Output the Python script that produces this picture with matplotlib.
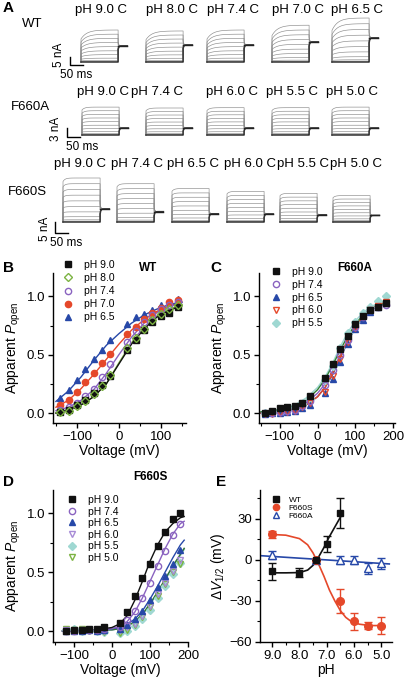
import numpy as np
import matplotlib
matplotlib.use('Agg')
import matplotlib.pyplot as plt
from matplotlib.lines import Line2D
from matplotlib.ticker import MultipleLocator, FormatStrFormatter

plt.rcParams['font.family'] = ['Liberation Sans', 'DejaVu Sans']
plt.rcParams['mathtext.fontset'] = 'custom'
plt.rcParams['mathtext.rm'] = 'Liberation Sans'
plt.rcParams['mathtext.it'] = 'Liberation Sans:italic'
plt.rcParams['mathtext.bf'] = 'Liberation Sans:bold'
plt.rcParams['axes.linewidth'] = 1.0

# ---------------- data: panel A (current families) ----------------
wt_labels = ["pH 9.0 C", "pH 8.0 C", "pH 7.4 C", "pH 7.0 C", "pH 6.5 C"]
wt_imax = [20.0, 19.4, 20.0, 23.0, 27.5]
wt_tail = [10.0, 10.6, 10.6, 12.5, 15.0]
f660a_labels = ["pH 9.0 C", "pH 7.4 C", "pH 6.0 C", "pH 5.5 C", "pH 5.0 C"]
f660a_imax = [9.3, 9.0, 9.1, 9.1, 9.3]
f660a_tail = [2.3, 2.3, 2.3, 2.3, 2.3]
f660s_labels = ["pH 9.0 C", "pH 7.4 C", "pH 6.5 C", "pH 6.0 C", "pH 5.5 C", "pH 5.0 C"]
f660s_imax = [20.0, 17.4, 15.2, 13.9, 13.0, 12.0]
f660s_tail = [5.9, 4.7, 3.7, 3.6, 3.2, 3.0]
trace_frac = [1.0, 0.87, 0.74, 0.61, 0.48, 0.35, 0.23, 0.12, 0.05, 0.02, 0.0]

# ---------------- data: panel B (WT) ----------------
v_wt = [-140, -120, -100, -80, -60, -40, -20, 20, 40, 60, 80, 100, 120, 140]
wt_p90 = [0.01, 0.03, 0.07, 0.11, 0.17, 0.24, 0.32, 0.54, 0.63, 0.71, 0.78, 0.83, 0.86, 0.91]
wt_p80 = [0.01, 0.02, 0.06, 0.10, 0.16, 0.23, 0.33, 0.56, 0.64, 0.72, 0.80, 0.85, 0.89, 0.93]
wt_p74 = [0.03, 0.05, 0.09, 0.15, 0.21, 0.31, 0.42, 0.61, 0.70, 0.78, 0.84, 0.89, 0.93, 0.95]
wt_p70 = [0.07, 0.11, 0.18, 0.27, 0.34, 0.43, 0.51, 0.68, 0.74, 0.81, 0.86, 0.90, 0.95, 0.97]
wt_p65 = [0.13, 0.20, 0.28, 0.38, 0.46, 0.54, 0.63, 0.76, 0.82, 0.85, 0.88, 0.93, 0.95, 0.98]
v_fit_b = [-150, -120, -90, -60, -30, 0, 30, 60, 90, 120, 150]
fit_b90 = [0.00, 0.03, 0.07, 0.14, 0.25, 0.42, 0.59, 0.72, 0.82, 0.88, 0.92]
fit_b80 = [0.00, 0.03, 0.07, 0.14, 0.25, 0.43, 0.60, 0.73, 0.83, 0.89, 0.93]
fit_b74 = [0.02, 0.05, 0.11, 0.20, 0.34, 0.50, 0.65, 0.77, 0.86, 0.91, 0.95]
fit_b70 = [0.05, 0.11, 0.21, 0.33, 0.46, 0.59, 0.71, 0.80, 0.87, 0.92, 0.95]
fit_b65 = [0.10, 0.19, 0.31, 0.45, 0.58, 0.68, 0.77, 0.84, 0.89, 0.93, 0.95]

# ---------------- data: panel C (F660A) ----------------
v_a = [-140, -120, -100, -80, -60, -40, -20, 20, 40, 60, 80, 100, 120, 140, 160, 180]
a_p90 = [0.00, 0.02, 0.04, 0.05, 0.06, 0.09, 0.15, 0.30, 0.42, 0.55, 0.66, 0.76, 0.83, 0.88, 0.91, 0.94]
a_p74 = [0.00, 0.00, 0.01, 0.02, 0.03, 0.06, 0.10, 0.24, 0.37, 0.50, 0.63, 0.74, 0.82, 0.88, 0.91, 0.93]
a_p65 = [-0.01, 0.00, 0.00, 0.01, 0.02, 0.04, 0.07, 0.17, 0.29, 0.44, 0.59, 0.72, 0.80, 0.87, 0.91, 0.94]
a_p60 = [-0.01, -0.01, 0.00, 0.01, 0.02, 0.05, 0.09, 0.18, 0.32, 0.46, 0.61, 0.73, 0.82, 0.88, 0.92, 0.95]
a_p55 = [0.00, 0.01, 0.02, 0.03, 0.05, 0.08, 0.12, 0.28, 0.40, 0.56, 0.69, 0.78, 0.86, 0.91, 0.96, 1.00]
v_fit_a = [-150, -120, -90, -60, -30, 0, 20, 40, 60, 80, 100, 120, 140, 160, 180]
fit_a90 = [0.01, 0.02, 0.03, 0.06, 0.11, 0.20, 0.29, 0.41, 0.54, 0.66, 0.76, 0.84, 0.89, 0.92, 0.94]
fit_a74 = [0.00, 0.01, 0.02, 0.04, 0.09, 0.17, 0.25, 0.36, 0.50, 0.63, 0.74, 0.82, 0.88, 0.91, 0.93]
fit_a65 = [0.00, 0.01, 0.02, 0.03, 0.07, 0.14, 0.22, 0.33, 0.47, 0.61, 0.73, 0.82, 0.88, 0.92, 0.94]
fit_a60 = [0.00, 0.00, 0.01, 0.03, 0.07, 0.14, 0.22, 0.34, 0.48, 0.62, 0.74, 0.83, 0.89, 0.93, 0.95]
fit_a55 = [0.01, 0.02, 0.04, 0.07, 0.13, 0.22, 0.31, 0.43, 0.57, 0.69, 0.79, 0.86, 0.91, 0.94, 0.96]

# ---------------- data: panel D (F660S) ----------------
v_s = [-120, -100, -80, -60, -40, -20, 20, 40, 60, 80, 100, 120, 140, 160, 180]
s_p90 = [0.00, 0.01, 0.01, 0.02, 0.02, 0.03, 0.07, 0.16, 0.30, 0.45, 0.57, 0.72, 0.84, 0.95, 1.00]
s_p74 = [0.00, 0.00, 0.01, 0.01, 0.01, 0.02, 0.03, 0.09, 0.17, 0.28, 0.41, 0.55, 0.68, 0.81, 0.91]
s_p65 = [0.00, 0.00, 0.00, 0.01, 0.00, 0.01, 0.02, 0.05, 0.10, 0.17, 0.26, 0.37, 0.47, 0.57, 0.69]
s_p60 = [0.01, 0.00, 0.01, 0.00, 0.01, 0.00, 0.01, 0.03, 0.06, 0.13, 0.21, 0.31, 0.41, 0.51, 0.60]
s_p55 = [0.01, 0.02, 0.00, 0.01, 0.00, -0.01, -0.02, 0.00, 0.04, 0.10, 0.18, 0.28, 0.38, 0.48, 0.58]
s_p50 = [0.02, 0.01, 0.02, 0.00, 0.01, -0.01, -0.02, 0.01, 0.05, 0.12, 0.20, 0.30, 0.40, 0.50, 0.57]
v_fit_s = [-130, -90, -50, -20, 0, 20, 40, 60, 80, 100, 120, 140, 160, 180, 190]
fit_s90 = [0.00, 0.00, 0.01, 0.02, 0.03, 0.06, 0.13, 0.26, 0.42, 0.59, 0.73, 0.84, 0.91, 0.96, 0.97]
fit_s74 = [0.00, 0.00, 0.00, 0.01, 0.02, 0.04, 0.08, 0.16, 0.28, 0.42, 0.56, 0.70, 0.82, 0.91, 0.93]
fit_s65 = [0.00, 0.00, 0.00, 0.01, 0.02, 0.03, 0.06, 0.10, 0.17, 0.27, 0.38, 0.50, 0.62, 0.73, 0.77]
fit_s60 = [0.00, 0.00, 0.00, 0.01, 0.01, 0.02, 0.04, 0.08, 0.14, 0.23, 0.33, 0.44, 0.55, 0.65, 0.70]
fit_s55 = [0.00, 0.00, 0.00, 0.00, 0.01, 0.02, 0.04, 0.08, 0.14, 0.22, 0.32, 0.43, 0.54, 0.64, 0.69]
fit_s50 = [0.00, 0.00, 0.00, 0.01, 0.01, 0.02, 0.04, 0.08, 0.14, 0.23, 0.33, 0.44, 0.55, 0.65, 0.70]

# ---------------- data: panel E ----------------
ph_wt = [9.0, 8.0, 7.4, 7.0, 6.5]
dv_wt = [-8.5, -9.3, 0.0, 11.7, 34.0]
err_wt = [6.0, 3.0, 0.0, 6.0, 11.0]
ph_s = [9.0, 7.4, 6.5, 6.0, 5.5, 5.0]
dv_s = [18.8, 0.0, -30.0, -45.0, -48.0, -48.0]
err_s = [2.5, 0.0, 8.5, 6.0, 2.5, 6.0]
ph_a = [9.0, 7.4, 6.5, 6.0, 5.5, 5.0]
dv_a = [3.5, 0.0, 0.0, 0.0, -6.0, -2.5]
err_a = [3.0, 0.0, 3.0, 3.0, 4.0, 4.0]
ph_fit_wt = [9.0, 8.5, 8.0, 7.7, 7.5, 7.3, 7.1, 6.9, 6.7, 6.5]
fit_wt = [-9.5, -9.5, -9.3, -7.5, -4.0, 2.0, 9.0, 17.0, 24.0, 31.0]
ph_fit_s = [9.0, 8.5, 8.0, 7.7, 7.5, 7.3, 7.1, 6.9, 6.7, 6.5, 6.3, 6.1, 5.8, 5.4, 5.0]
fit_s = [18.5, 18.0, 15.5, 11.0, 5.0, -3.0, -12.0, -22.0, -30.0, -37.0, -42.0, -45.0, -47.0, -48.0, -48.0]
ph_fit_a = [9.4, 4.7]
fit_a = [3.0, -3.0]

# ---------------- colours ----------------
C_BLK = '#111111'
C_GRN = '#7cb342'
C_PUR = '#8a63c0'
C_RED = '#e5482a'
C_BLU = '#2748a8'
C_CYN = '#9fd8d2'
C_LPU = '#a78bd6'
C_DGR = '#2f7d32'

W, H = 404, 682
fig = plt.figure(figsize=(W / 100, H / 100), dpi=100)


def frect(l, t, r, b):
    return [l / W, 1 - b / H, (r - l) / W, (b - t) / H]


def ftext(x, y, s, **kw):
    fig.text(x / W, 1 - y / H, s, **kw)


# ---------------- panel A ----------------
PX_MS = 0.265
T_STEP = 140.0
T_END = 175.0


def draw_family(ax, imax, tail, act, tau):
    t = np.linspace(0, T_STEP, 60)
    for k, fr in enumerate(trace_frac):
        L = imax * fr
        I = L * (1 - act * np.exp(-t / tau))
        tt = np.linspace(T_STEP, T_END, 20)
        It = tail + (fr - 0.45) * 0.25 * imax * np.exp(-(tt - T_STEP) / 2.5)
        xs = np.concatenate([[0], t, [T_STEP], tt])
        ys = np.concatenate([[0], I, [I[-1]], It])
        lw = 1.1 if fr == 0 else 0.45
        col = '#333333' if fr == 0 else '#8a8a8a'
        ax.plot(xs, ys, color=col, lw=lw)
    ax.plot(np.linspace(T_STEP, T_END, 2), [tail, tail], color='#222222', lw=1.0)


rows = [
    dict(labels=wt_labels, imax=wt_imax, tail=wt_tail, base=62, ppn=1.6,
         starts=[81, 146, 207, 272, 332], lx=[101, 172, 233, 298, 357], ly=10,
         name='WT', nx=32, ny=24, bx=70, bb=65, bnA=5, btxt='5 nA',
         tx=59, ty=55, mx=76, my=75, act=0.28, tau=22),
    dict(labels=f660a_labels, imax=f660a_imax, tail=f660a_tail, base=135, ppn=3.0,
         starts=[82, 146, 207, 272, 332], lx=[103, 157, 232, 292, 352], ly=92,
         name='F660A', nx=30, ny=107, bx=67, bb=137, bnA=3, btxt='3 nA',
         tx=56, ty=129, mx=82, my=147, act=0.10, tau=10),
    dict(labels=f660s_labels, imax=f660s_imax, tail=f660s_tail, base=222, ppn=2.2,
         starts=[63, 117, 172, 227, 280, 333], lx=[80, 137, 193, 250, 303, 356], ly=164,
         name='F660S', nx=27, ny=192, bx=55, bb=233, bnA=5, btxt='5 nA',
         tx=45, ty=229, mx=66, my=243, act=0.08, tau=8),
]

for r in rows:
    ppn = r['ppn']
    for i, (lab, im, tl) in enumerate(zip(r['labels'], r['imax'], r['tail'])):
        x0 = r['starts'][i] - 5 * PX_MS
        x1 = r['starts'][i] + (T_END + 5) * PX_MS
        ytop = r['base'] - 30 * ppn
        ybot = r['base'] + 8 * ppn
        ax = fig.add_axes(frect(x0, ytop, x1, ybot))
        ax.set_xlim(-5, T_END + 5)
        ax.set_ylim(-8, 30)
        ax.axis('off')
        draw_family(ax, im, tl, r['act'], r['tau'])
        ftext(r['lx'][i], r['ly'], lab, ha='center', va='center', fontsize=9.5)
        if i == 0:
            sx = (r['bx'] - r['starts'][0]) / PX_MS
            sy = (r['base'] - r['bb']) / ppn
            ax.plot([sx, sx, sx + 50], [sy + r['bnA'], sy, sy], color='k', lw=1.0,
                    clip_on=False)
            ftext(r['tx'], r['ty'], r['btxt'], rotation=90,
                  ha='center', va='center', fontsize=8.5)
            ftext(r['mx'], r['my'], '50 ms', ha='center', va='center', fontsize=8.5)
    ftext(r['nx'], r['ny'], r['name'], ha='center', va='center', fontsize=9.5)

# ---------------- helpers for B-E ----------------


def style_axes(ax):
    for s in ['top', 'right']:
        ax.spines[s].set_visible(False)
    ax.tick_params(which='major', direction='out', length=3.5, width=1.0,
                   labelsize=9.5, pad=2)
    ax.tick_params(which='minor', direction='out', length=2, width=0.8)


def add_legend(ax, entries, x, y, fs, spacing, hl=1.0, htp=1.0):
    handles = []
    labels = []
    for lab, mk, col, filled in entries:
        handles.append(Line2D([], [], ls='none', marker=mk, color=col,
                              mfc=col if filled else 'none', mec=col, ms=4.5, mew=1.0))
        labels.append(lab)
    ax.legend(handles, labels, loc='upper left', bbox_to_anchor=(x / W, 1 - y / H),
              bbox_transform=fig.transFigure, frameon=False, fontsize=fs,
              handlelength=hl, handletextpad=htp, labelspacing=spacing,
              borderpad=0, borderaxespad=0, numpoints=1)


def scatter(ax, x, y, mk, col, filled, ms=4.5):
    ax.plot(x, y, ls='none', marker=mk, color=col, mfc=col if filled else 'none',
            mec=col, ms=ms, mew=1.0, zorder=3)


YLAB = 'Apparent $P_{\\mathrm{open}}$'

# ---------------- panel B ----------------
axB = fig.add_axes(frect(53, 273, 186, 423))
axB.plot(v_fit_b, fit_b80, color=C_GRN, lw=1.0)
axB.plot(v_fit_b, fit_b74, color=C_PUR, lw=1.0)
axB.plot(v_fit_b, fit_b70, color=C_RED, lw=1.0)
axB.plot(v_fit_b, fit_b65, color=C_BLU, lw=1.0)
axB.plot(v_fit_b, fit_b90, color=C_BLK, lw=1.0)
scatter(axB, v_wt, wt_p65, '^', C_BLU, True)
scatter(axB, v_wt, wt_p70, 'o', C_RED, True)
scatter(axB, v_wt, wt_p74, 'o', C_PUR, False)
scatter(axB, v_wt, wt_p90, 's', C_BLK, True)
scatter(axB, v_wt, wt_p80, 'D', C_GRN, False, ms=4)
axB.set_xlim(-157, 160)
axB.set_ylim(-0.085, 1.2)
axB.xaxis.set_major_locator(MultipleLocator(100))
axB.xaxis.set_minor_locator(MultipleLocator(50))
axB.yaxis.set_major_locator(MultipleLocator(0.5))
axB.yaxis.set_minor_locator(MultipleLocator(0.25))
axB.yaxis.set_major_formatter(FormatStrFormatter('%.1f'))
style_axes(axB)
axB.set_xlabel('Voltage (mV)', fontsize=10, labelpad=1)
axB.set_ylabel(YLAB, fontsize=10, labelpad=3)
add_legend(axB, [('pH 9.0', 's', C_BLK, True), ('pH 8.0', 'D', C_GRN, False),
                 ('pH 7.4', 'o', C_PUR, False), ('pH 7.0', 'o', C_RED, True),
                 ('pH 6.5', '^', C_BLU, True)], 63, 260, 7.5, 0.3)
ftext(148, 268, 'WT', ha='center', va='center', fontsize=8.5, fontweight='bold')

# ---------------- panel C ----------------
axC = fig.add_axes(frect(259, 273, 395, 423))
axC.plot(v_fit_a, fit_a55, color=C_CYN, lw=1.0)
axC.plot(v_fit_a, fit_a74, color=C_PUR, lw=1.0)
axC.plot(v_fit_a, fit_a65, color=C_BLU, lw=1.0)
axC.plot(v_fit_a, fit_a60, color=C_RED, lw=1.0)
axC.plot(v_fit_a, fit_a90, color=C_DGR, lw=1.0)
scatter(axC, v_a, a_p55, 'D', C_CYN, True, ms=4.5)
scatter(axC, v_a, a_p65, '^', C_BLU, True)
scatter(axC, v_a, a_p60, 'v', C_RED, False)
scatter(axC, v_a, a_p74, 'o', C_PUR, False)
scatter(axC, v_a, a_p90, 's', C_BLK, True)
axC.set_xlim(-155, 205)
axC.set_ylim(-0.085, 1.2)
axC.xaxis.set_major_locator(MultipleLocator(100))
axC.xaxis.set_minor_locator(MultipleLocator(50))
axC.yaxis.set_major_locator(MultipleLocator(0.5))
axC.yaxis.set_minor_locator(MultipleLocator(0.25))
axC.yaxis.set_major_formatter(FormatStrFormatter('%.1f'))
style_axes(axC)
axC.set_xlabel('Voltage (mV)', fontsize=10, labelpad=1)
axC.set_ylabel(YLAB, fontsize=10, labelpad=3)
add_legend(axC, [('pH 9.0', 's', C_BLK, True), ('pH 7.4', 'o', C_PUR, False),
                 ('pH 6.5', '^', C_BLU, True), ('pH 6.0', 'v', C_RED, False),
                 ('pH 5.5', 'D', C_CYN, True)], 271, 267, 7.5, 0.27)
ftext(355, 268, 'F660A', ha='center', va='center', fontsize=8.5, fontweight='bold')

# ---------------- panel D ----------------
axD = fig.add_axes(frect(53, 490, 188, 642))
axD.plot(v_fit_s, fit_s55, color=C_CYN, lw=1.0)
axD.plot(v_fit_s, fit_s60, color=C_LPU, lw=1.0)
axD.plot(v_fit_s, fit_s50, color=C_DGR, lw=1.0)
axD.plot(v_fit_s, fit_s65, color=C_BLU, lw=1.0)
axD.plot(v_fit_s, fit_s74, color=C_PUR, lw=1.0)
axD.plot(v_fit_s, fit_s90, color=C_BLK, lw=1.0)
scatter(axD, v_s, s_p55, 'D', C_CYN, True)
scatter(axD, v_s, s_p50, 'v', C_GRN, False)
scatter(axD, v_s, s_p60, 'v', C_LPU, False)
scatter(axD, v_s, s_p65, '^', C_BLU, True)
scatter(axD, v_s, s_p74, 'o', C_PUR, False)
scatter(axD, v_s, s_p90, 's', C_BLK, True)
axD.set_xlim(-155, 200)
axD.set_ylim(-0.093, 1.195)
axD.xaxis.set_major_locator(MultipleLocator(100))
axD.xaxis.set_minor_locator(MultipleLocator(50))
axD.yaxis.set_major_locator(MultipleLocator(0.5))
axD.yaxis.set_minor_locator(MultipleLocator(0.25))
axD.yaxis.set_major_formatter(FormatStrFormatter('%.1f'))
style_axes(axD)
axD.set_xlabel('Voltage (mV)', fontsize=10, labelpad=1)
axD.set_ylabel(YLAB, fontsize=10, labelpad=3)
add_legend(axD, [('pH 9.0', 's', C_BLK, True), ('pH 7.4', 'o', C_PUR, False),
                 ('pH 6.5', '^', C_BLU, True), ('pH 6.0', 'v', C_LPU, False),
                 ('pH 5.5', 'D', C_CYN, True), ('pH 5.0', 'v', C_GRN, False)],
           67, 495, 7.5, 0.15)
ftext(150, 477, 'F660S', ha='center', va='center', fontsize=8.5, fontweight='bold')

# ---------------- panel E ----------------
axE = fig.add_axes(frect(260, 490, 392, 642))
axE.plot(ph_fit_a, fit_a, color=C_BLU, lw=1.2)
axE.plot(ph_fit_s, fit_s, color=C_RED, lw=1.2)
axE.plot(ph_fit_wt, fit_wt, color=C_BLK, lw=1.2)
axE.errorbar(ph_a, dv_a, yerr=err_a, fmt='^', color=C_BLU, mfc='white', mec=C_BLU,
             ms=5.5, mew=1.0, capsize=3, elinewidth=1.0, capthick=1.0, zorder=3)
axE.errorbar(ph_s, dv_s, yerr=err_s, fmt='o', color=C_RED, mfc=C_RED, mec=C_RED,
             ms=5.5, capsize=3, elinewidth=1.0, capthick=1.0, zorder=3)
axE.errorbar(ph_wt, dv_wt, yerr=err_wt, fmt='s', color=C_BLK, mfc=C_BLK, mec=C_BLK,
             ms=5, capsize=3, elinewidth=1.0, capthick=1.0, zorder=4)
axE.set_xlim(9.45, 4.6)
axE.set_ylim(-60, 51)
axE.xaxis.set_major_locator(MultipleLocator(1.0))
axE.xaxis.set_minor_locator(MultipleLocator(0.5))
axE.xaxis.set_major_formatter(FormatStrFormatter('%.1f'))
axE.yaxis.set_major_locator(MultipleLocator(30))
axE.yaxis.set_minor_locator(MultipleLocator(15))
style_axes(axE)
axE.set_xlabel('pH', fontsize=10, labelpad=1)
axE.set_ylabel('$\\Delta V_{1/2}$ (mV)', fontsize=10, labelpad=2)
add_legend(axE, [('WT', 's', C_BLK, True), ('F660S', 'o', C_RED, True),
                 ('F660A', '^', C_BLU, False)], 272, 496, 6, 0.05)

# ---------------- panel letters ----------------
for lab, x, y in [('A', 3, 8), ('B', 3, 268), ('C', 210, 268), ('D', 3, 482), ('E', 216, 482)]:
    ftext(x, y, lab, ha='left', va='center', fontsize=11, fontweight='bold')

fig.savefig('out.png', dpi=100)
